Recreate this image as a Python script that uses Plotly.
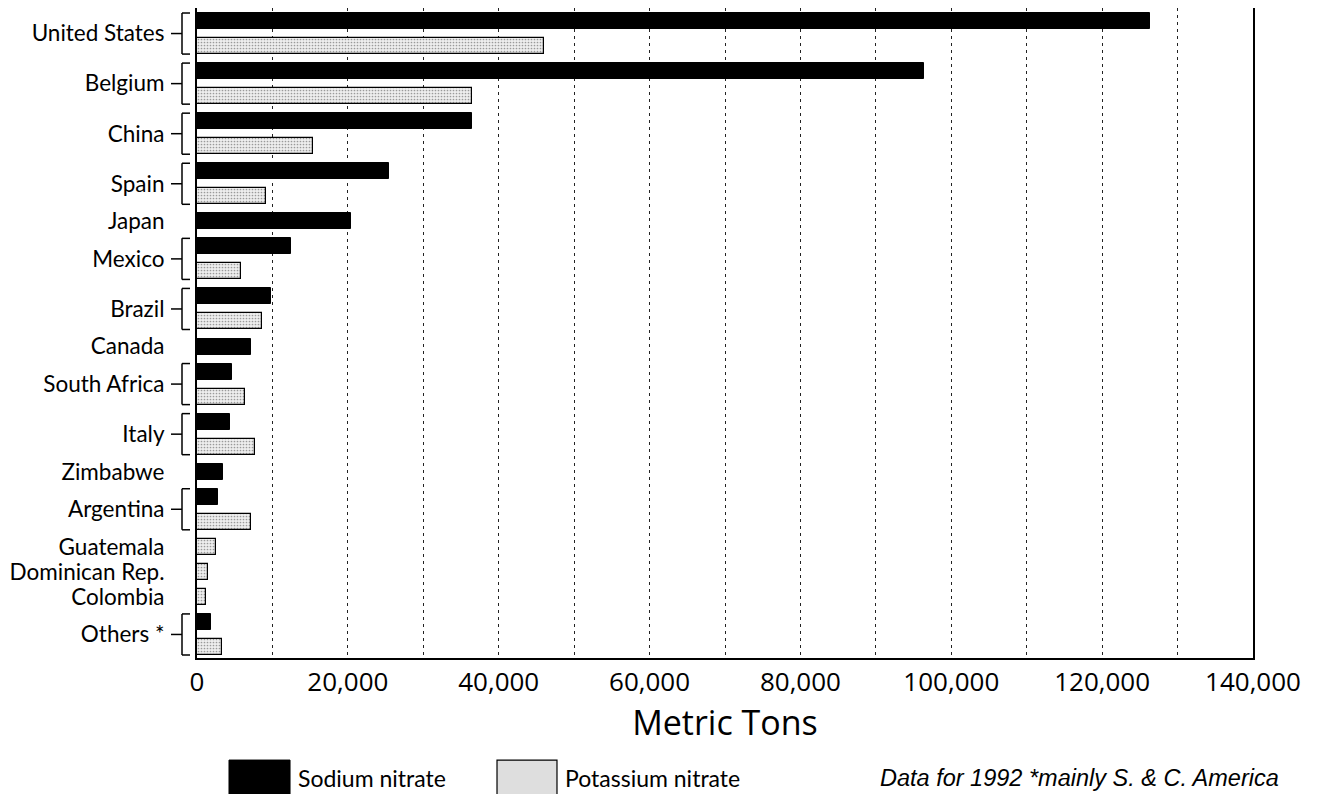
import plotly.graph_objects as go

countries = ["United States", "Belgium", "China", "Spain", "Japan", "Mexico", "Brazil",
             "Canada", "South Africa", "Italy", "Zimbabwe", "Argentina", "Guatemala",
             "Dominican Rep.", "Colombia", "Others *"]
sodium = [126400, 96400, 36400, 25400, 20400, 12400, 9800,
          7150, 4600, 4350, 3450, 2750, None, None, None, 1850]
potassium = [46000, 36400, 15400, 9150, None, 5850, 8600,
             None, 6350, 7650, None, 7150, 2500, 1450, 1200, 3300]

x_tick_vals = [0, 20000, 40000, 60000, 80000, 100000, 120000, 140000]
x_tick_text = ["0", "20,000", "40,000", "60,000", "80,000", "100,000", "120,000", "140,000"]

LABEL_FONT = "Lato"
AXIS_FONT = "Open Sans"
BAR_W = 0.64
PLOT_W_PX = 1056

# compute slot positions from data
sod_y, sod_x, pot_y, pot_x = [], [], [], []
centers, groups = [], []
slot = 0
for c, s, p in zip(countries, sodium, potassium):
    slots = []
    if s is not None:
        sod_y.append(slot); sod_x.append(s); slots.append(slot); slot += 1
    if p is not None:
        pot_y.append(slot); pot_x.append(p); slots.append(slot); slot += 1
    centers.append(sum(slots) / len(slots))
    groups.append(slots)
n_slots = slot

fig = go.Figure()
fig.add_trace(go.Bar(x=sod_x, y=sod_y, orientation="h", width=BAR_W,
                     marker=dict(color="black", line=dict(color="black", width=1)),
                     name="Sodium nitrate", showlegend=False))
fig.add_trace(go.Bar(x=pot_x, y=pot_y, orientation="h", width=BAR_W,
                     marker=dict(color="#e4e4e4", line=dict(color="black", width=1.2),
                                 pattern=dict(shape=".", fgcolor="#9a9a9a", bgcolor="#eeeeee",
                                              size=3, solidity=0.25, fillmode="replace")),
                     name="Potassium nitrate", showlegend=False))


def px(p):
    return p / PLOT_W_PX


shapes = []
for slots in groups:
    if len(slots) < 2:
        continue
    y0 = slots[0] - BAR_W / 2
    y1 = slots[-1] + BAR_W / 2
    yc = (slots[0] + slots[-1]) / 2
    common = dict(type="line", xref="paper", yref="y", line=dict(color="black", width=1.5))
    shapes.append(dict(common, x0=px(-15), x1=px(-15), y0=y0, y1=y1))
    shapes.append(dict(common, x0=px(-15), x1=px(-7), y0=y0, y1=y0))
    shapes.append(dict(common, x0=px(-15), x1=px(-7), y0=y1, y1=y1))
    shapes.append(dict(common, x0=px(-26), x1=px(-15), y0=yc, y1=yc))

# legend swatches
shapes.append(dict(type="rect", xref="paper", yref="paper", x0=0.0303, x1=0.0881,
                   y0=-0.24, y1=-0.157, fillcolor="black", line=dict(color="black", width=1)))
shapes.append(dict(type="rect", xref="paper", yref="paper", x0=0.2841, x1=0.3409,
                   y0=-0.24, y1=-0.157, fillcolor="#dedede", line=dict(color="black", width=1.2)))

annotations = [
    dict(text="Sodium nitrate", xref="paper", yref="paper", x=0.094, y=-0.1846,
         xanchor="left", yanchor="middle", showarrow=False,
         font=dict(family=LABEL_FONT, size=23, color="black")),
    dict(text="Potassium nitrate", xref="paper", yref="paper", x=0.347, y=-0.1846,
         xanchor="left", yanchor="middle", showarrow=False,
         font=dict(family=LABEL_FONT, size=23, color="black")),
    dict(text="<i>Data for 1992 *mainly S. &amp; C. America</i>", xref="paper", yref="paper",
         x=0.645, y=-0.1846, xanchor="left", yanchor="middle", showarrow=False,
         font=dict(family="Liberation Sans", size=23.5, color="black")),
]

grid_common = dict(gridcolor="#222", griddash="3px,4px", gridwidth=1)

fig.update_layout(
    width=1309, height=786,
    margin=dict(l=189, r=64, t=0, b=136, autoexpand=False),
    plot_bgcolor="white", paper_bgcolor="white",
    bargap=0, showlegend=False,
    shapes=shapes, annotations=annotations,
    font=dict(family=LABEL_FONT, color="black"),
    xaxis=dict(range=[0, 140000], tickvals=x_tick_vals, ticktext=x_tick_text,
               showgrid=True, **grid_common,
               minor=dict(dtick=10000, tick0=0, showgrid=True, ticks="", **grid_common),
               showline=True, linecolor="black", linewidth=2, mirror=True,
               zeroline=False, ticks="", ticklabelstandoff=0,
               tickfont=dict(family=AXIS_FONT, size=26),
               title=dict(text="Metric Tons", font=dict(family=AXIS_FONT, size=34), standoff=12)),
    yaxis=dict(range=[n_slots - 0.56, -0.52], tickvals=centers, ticktext=countries,
               showgrid=False, zeroline=False, showline=True, linecolor="black", linewidth=2,
               mirror=True, ticks="", ticklabelstandoff=26,
               tickfont=dict(family=LABEL_FONT, size=22.5)),
)

fig.write_html("out.html")
